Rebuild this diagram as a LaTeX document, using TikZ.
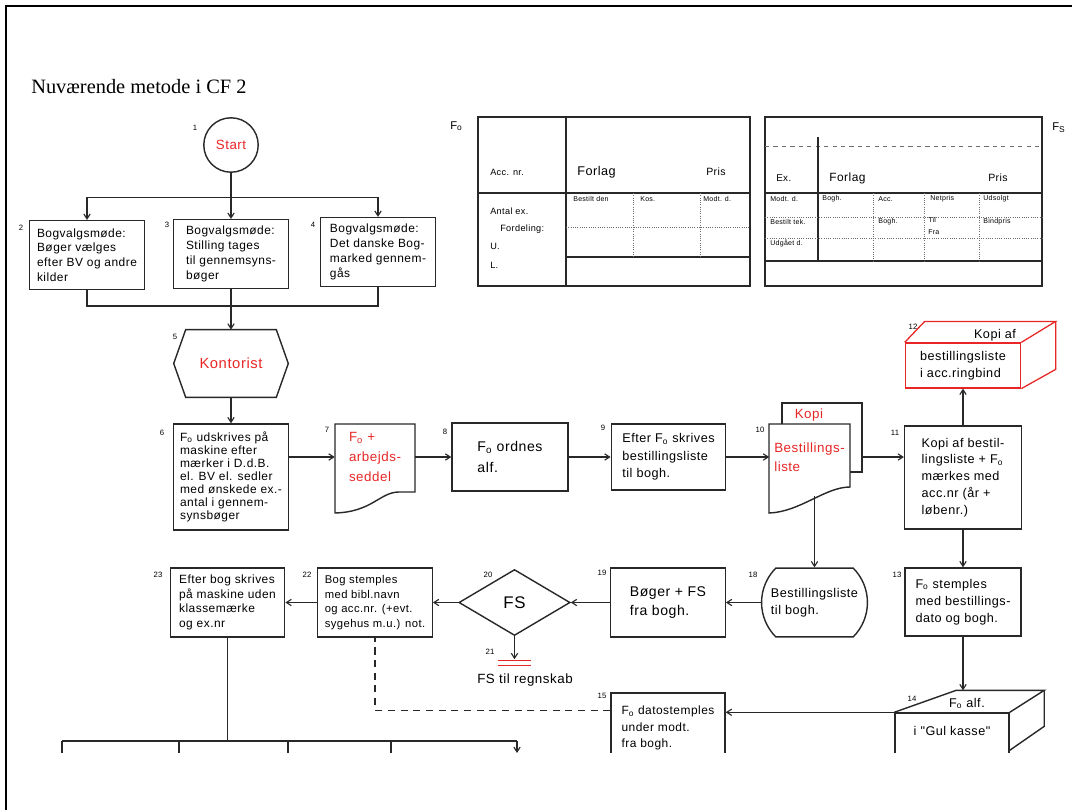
\documentclass[tikz,border=0pt]{standalone}
\usepackage{fontspec}
\setmainfont{Liberation Sans}
\newfontfamily\titlefont{Liberation Serif}
\newfontfamily\handfont{Liberation Sans}[LetterSpace=4.0]
\usepackage{tikz}
\usetikzlibrary{arrows.meta,shapes.geometric,shapes.misc,positioning,calc}
\definecolor{inkline}{RGB}{40,40,40}
\definecolor{inkred}{RGB}{232,38,38}
\definecolor{formgrey}{RGB}{110,110,110}
\newcommand{\boxfont}{\handfont\fontsize{8.5}{11.5}\selectfont}
\newcommand{\redfont}{\handfont\fontsize{9.5}{14}\selectfont}
\tikzstyle{box line}=[draw=inkline, line width=1pt]
\tikzstyle{step box}=[rectangle, box line, fill=white, minimum width=2.86cm, minimum height=1.72cm, inner sep=1pt, align=left, font=\boxfont]
\tikzstyle{start circle}=[circle, box line, minimum size=1.36cm, inner sep=0pt, text=inkred, font=\redfont]
\tikzstyle{hex box}=[rectangle, minimum width=2.85cm, minimum height=1.68cm, text=inkred, font=\handfont\fontsize{10.5}{12}\selectfont]
\tikzstyle{doc box}=[rectangle, minimum width=2cm, minimum height=1.7cm, inner sep=1pt, align=left, text=inkred, font=\redfont]
\tikzstyle{round box}=[rounded rectangle, rounded rectangle arc length=90, box line, minimum width=2.88cm, minimum height=1.72cm, align=left, font=\boxfont]
\tikzstyle{fs diamond}=[diamond, box line, minimum width=2.78cm, minimum height=1.65cm, inner sep=0pt, font=\handfont\fontsize{12}{14}\selectfont]
\tikzstyle{num label}=[font=\handfont\fontsize{5.5}{6}\selectfont, inner sep=0pt]
\tikzstyle{box note}=[font=\handfont\fontsize{9}{12}\selectfont, inner sep=1pt, align=left]
\tikzstyle{flow line}=[draw=inkline, line width=0.8pt]
\tikzstyle{flow}=[flow line, -{Straight Barb[length=3.5pt,width=4.5pt]}]
\tikzstyle{dash flow}=[flow line, dash pattern=on 5pt off 4pt]
\tikzstyle{red line}=[draw=inkred, line width=0.9pt]
\tikzstyle{form line}=[draw=inkline, line width=0.8pt]
\tikzstyle{form thin}=[draw=formgrey, line width=0.6pt, densely dotted]
\tikzstyle{form dash}=[draw=formgrey, line width=0.6pt, dash pattern=on 3pt off 3pt]
\tikzstyle{form text}=[anchor=west, inner sep=0pt, font=\handfont\fontsize{5}{6}\selectfont]
\tikzstyle{frame line}=[draw=black, line width=1.4pt]

\begin{document}
\begin{tikzpicture}[x=0.025cm, y=-0.025cm]
\useasboundingbox (0,0) rectangle (1072,810);

\node[anchor=base west, inner sep=0pt, font=\titlefont\fontsize{14.5}{16}\selectfont] (T-0) at (31,93) {Nuværende metode i CF 2};

\begin{scope}
\clip (7,7) rectangle (1072,752);

	% Form F_o
    \draw[form line] (478,117) rectangle (750,286);
    \draw[form line] (566,117) -- (566,286) (478,193) -- (750,193) (566,257) -- (750,257);
    \draw[form thin] (566,227) -- (750,227) (633,193) -- (633,257) (700,193) -- (700,257);
    \node[form text, font=\handfont\fontsize{8}{9}\selectfont] (F0-0) at (450,126) {F\textsubscript{o}};
    \node[form text, font=\handfont\fontsize{9}{10}\selectfont] (F0-F) at (577,172) {Forlag};
    \node[form text, font=\handfont\fontsize{7.5}{8}\selectfont] (F0-P) at (706,172) {Pris};
    \foreach \x/\y/\t [count=\i] in {490/172/Acc. nr., 490/211/Antal ex., 500/229/Fordeling:, 490/246/U., 490/265/L.}
        \node[form text, font=\handfont\fontsize{6.5}{7}\selectfont] (F0L-\i) at (\x,\y) {\t};
    \foreach \x/\y/\t [count=\i] in {573/199/Bestilt den, 640/199/Kos., 703/199/Modt. d.}
        \node[form text] (F0S-\i) at (\x,\y) {\t};

	% Form F_S
    \draw[form line] (765,117) rectangle (1042,286);
    \draw[form dash] (765,146) -- (1042,146);
    \draw[form line] (818,137) -- (818,261);
    \foreach \y in {193,261}
        \draw[form line] (765,\y) -- (1042,\y);
    \foreach \y in {217,238}
        \draw[form thin] (765,\y) -- (1042,\y);
    \foreach \x in {873,924,979}
        \draw[form thin] (\x,193) -- (\x,261);
    \node[form text, font=\handfont\fontsize{8}{9}\selectfont] (FS-0) at (1052,128) {F\textsubscript{S}};
    \node[form text, font=\handfont\fontsize{7}{8}\selectfont] (FS-E) at (776,178) {Ex.};
    \node[form text, font=\handfont\fontsize{8.5}{9}\selectfont] (FS-F) at (829,178) {Forlag};
    \node[form text, font=\handfont\fontsize{7.5}{8}\selectfont] (FS-P) at (988,178) {Pris};
    \foreach \x/\y/\t [count=\i] in {770/199/Modt. d., 822/199/Bogh., 878/199/Acc., 930/199/Netpris, 983/199/Udsolgt, 770/222/Bestilt tek., 878/222/Bogh., 928/220/Til, 928/232/Fra, 983/222/Bindpris, 770/243/Udgået d.}
        \node[form text] (FSS-\i) at (\x,\y) {\t};

	% Start -> selection meetings
    \node[start circle] (P-1) at (231,145) {Start};
    \node[step box, font=\handfont\fontsize{8.5}{10.5}\selectfont] (P-2) at (87,255) {Bogvalgsmøde:\\Bøger vælges\\efter BV og andre\\kilder};
    \node[step box, font=\handfont\fontsize{8.5}{10.5}\selectfont] (P-3) at (231,254) {Bogvalgsmøde:\\Stilling tages\\til gennemsyns-\\bøger};
    \node[step box, font=\handfont\fontsize{8.5}{10.5}\selectfont] (P-4) at (378,252) {Bogvalgsmøde:\\Det danske Bog-\\marked gennem-\\gås};

    \draw[flow line] (P-1.south) -- ++(0,25) coordinate (S-1);
    \draw[flow] (S-1) -| (P-2.north);
    \draw[flow] (S-1) -| (P-4.north);
    \draw[flow] (S-1) -- (P-3.north);

    \node[hex box] (P-5) at (231,363.5) {Kontorist};
    \draw[box line] (P-5.west) -- ([xshift=0.3cm]P-5.north west) -- ([xshift=-0.3cm]P-5.north east) -- (P-5.east) -- ([xshift=-0.3cm]P-5.south east) -- ([xshift=0.3cm]P-5.south west) -- cycle;
    \coordinate (M-5) at (231,306);
    \draw[flow line] (P-2.south) |- (M-5) -| (P-4.south);
    \draw[flow] (P-3.south) -- (P-5.north);

	% Ordering row
    \node[step box, minimum height=2.65cm, font=\handfont\fontsize{8.5}{9.3}\selectfont] (P-6) at (231,477) {F\textsubscript{o} udskrives på\\maskine efter\\mærker i D.d.B.\\el. BV el. sedler\\med ønskede ex.-\\antal i gennem-\\synsbøger};
    \draw[flow] (P-5.south) -- (P-6.north);

    \draw[box line] (335,424) -- (415,424) -- (415,492) -- (399,492) .. controls (380,492) and (372,512) .. (335,513) -- cycle;
    \node[doc box] (P-7) at (375,457) {F\textsubscript{o} +\\arbejds-\\seddel};
    \draw[flow] (P-6.east |- P-7.west) -- (P-7.west);

    \node[step box, minimum width=2.9cm, minimum height=1.7cm, font=\handfont\fontsize{10}{15}\selectfont] (P-8) at (510,457) {F\textsubscript{o} ordnes\\alf.};
    \draw[flow] (P-7.east) -- (P-8.west);

    \node[step box, minimum height=1.65cm, font=\handfont\fontsize{9}{12.5}\selectfont] (P-9) at (668.5,457) {Efter F\textsubscript{o} skrives\\bestillingsliste\\til bogh.};
    \draw[flow] (P-8.east) -- (P-9.west);

    \node[rectangle, box line, fill=white, minimum width=2cm, minimum height=1.73cm, label={[anchor=north west, inner sep=0pt, text=inkred, font=\redfont, xshift=0.33cm, yshift=-0.15cm]north west:Kopi}] (K-10) at (822,437.5) {};
    \draw[box line, fill=white] (769,424) -- (850,424) -- (850,487) .. controls (825,487) and (800,512) .. (769,513) -- cycle;
    \node[doc box, font=\handfont\fontsize{9.5}{13.5}\selectfont] (P-10) at (809.5,457) {Bestillings-\\liste};
    \draw[flow] (P-9.east) -- (P-10.west);

    \node[step box, minimum width=2.92cm, minimum height=2.58cm, font=\handfont\fontsize{9}{12}\selectfont] (P-11) at (963,477.5) {Kopi af bestil-\\lingsliste + F\textsubscript{o}\\mærkes med\\acc.nr (år +\\løbenr.)};
    \draw[flow] (K-10.east |- P-10.east) -- (P-11.west |- P-10.east);

    \node[step box, draw=inkred, minimum width=2.88cm, minimum height=1.12cm, font=\handfont\fontsize{9}{12}\selectfont, label={[box note, anchor=south, xshift=0.8cm]north:Kopi af}] (P-12) at (963,365.5) {bestillingsliste\\i acc.ringbind};
    \draw[red line] (P-12.north west) -- ++(20,-21) -- ++(131,0) coordinate (C-12) -- (P-12.north east);
    \draw[red line] (C-12) -- ++(0,48) -- (P-12.south east);
    \draw[flow] (P-11.north) -- (P-12.south);

	% Right column down
    \node[step box, minimum width=2.9cm, minimum height=1.7cm, font=\handfont\fontsize{9}{12}\selectfont] (P-13) at (963,602) {F\textsubscript{o} stemples\\med bestillings-\\dato og bogh.};
    \draw[flow] (P-11.south) -- (P-13.north);

    \node[step box, minimum width=2.85cm, minimum height=1.75cm, label={[box note, anchor=north, yshift=-0.3cm]north:i "Gul kasse"}, label={[box note, anchor=south, xshift=0.375cm, yshift=0.05cm]north:F\textsubscript{o} alf.}] (P-14) at (952,748) {};
    \draw[box line] (P-14.north west) -- ++(62,-22) -- ++(88,0) coordinate (C-14) -- (P-14.north east);
    \draw[box line] (C-14) -- ++(0,36) -- ++(-36,25);
    \draw[flow] (P-13.south) -- (P-13.south |- C-14);

    \node[step box, minimum width=2.85cm, minimum height=1.75cm, font=\handfont\fontsize{8.5}{11.5}\selectfont] (P-15) at (668,728) {F\textsubscript{o} datostemples\\under modt.\\fra bogh.};
    \draw[flow] (P-14.north west) -- (P-14.north west -| P-15.east);

	% Delivery row
    \node[round box, font=\handfont\fontsize{9}{12}\selectfont] (P-18) at (814.5,602.5) {Bestillingsliste\\til bogh.};
    \draw[flow] ($(P-10.south -| P-18.north)+(0,5)$) -- (P-18.north);

    \node[step box, font=\handfont\fontsize{10}{13}\selectfont] (P-19) at (668,602.5) {Bøger + FS\\fra bogh.};
    \draw[flow] (P-18.west) -- (P-19.east);

    \node[fs diamond] (P-20) at (514.5,602.5) {FS};
    \draw[flow] (P-19.west) -- (P-20.east);
    \draw[flow] (P-20.south) -- ++(0,23) coordinate (G-21);
    \draw[red line] ($(G-21)+(-17,1)$) -- ++(33,0);
    \draw[red line] ($(G-21)+(-17,6)$) -- ++(33,0);
    \node[box note, font=\handfont\fontsize{9.5}{11}\selectfont] (P-21) at (525,680) {FS til regnskab};

    \node[step box, font=\handfont\fontsize{8}{10.5}\selectfont] (P-22) at (375,602.5) {Bog stemples\\med bibl.navn\\og acc.nr. (+evt.\\sygehus m.u.) not.};
    \draw[flow] (P-20.west) -- (P-22.east);

    \node[step box, font=\handfont\fontsize{8.5}{10.5}\selectfont] (P-23) at (227.5,602.5) {Efter bog skrives\\på maskine uden\\klassemærke\\og ex.nr};
    \draw[flow] (P-22.west) -- (P-23.east);

    \draw[dash flow] ([yshift=-0.45cm]P-15.north west) -| (P-22.south);

	% Distribution below
    \coordinate (T-1) at (62,741);
    \coordinate (T-5) at (517,741);
    \draw[flow line] (P-23.south) -- (P-23.south |- T-1);
    \draw[flow line] (T-1) -- (T-5);
    \foreach \x in {62,179,288,391}
        \draw[flow line] (\x,741) -- ++(0,20);
    \draw[flow] (T-5) -- ++(0,12);

	% Step numbers
    \foreach \n/\x/\y in {1/195/128, 2/21/228, 3/167/225, 4/313/225, 5/175/337, 6/162/433, 7/327/430, 8/445/432, 9/603/428, 10/760/430, 11/895/433, 12/913/327, 13/897/575, 14/912/699, 15/602/696, 18/753/575, 19/602/573, 20/488/575, 21/490/652, 22/307/575, 23/158/575}
        \node[num label] (N-\n) at (\x,\y) {\n};
\end{scope}

\draw[frame line] (6,810) -- (6,6) -- (1072,6);
\end{tikzpicture}
\end{document}
